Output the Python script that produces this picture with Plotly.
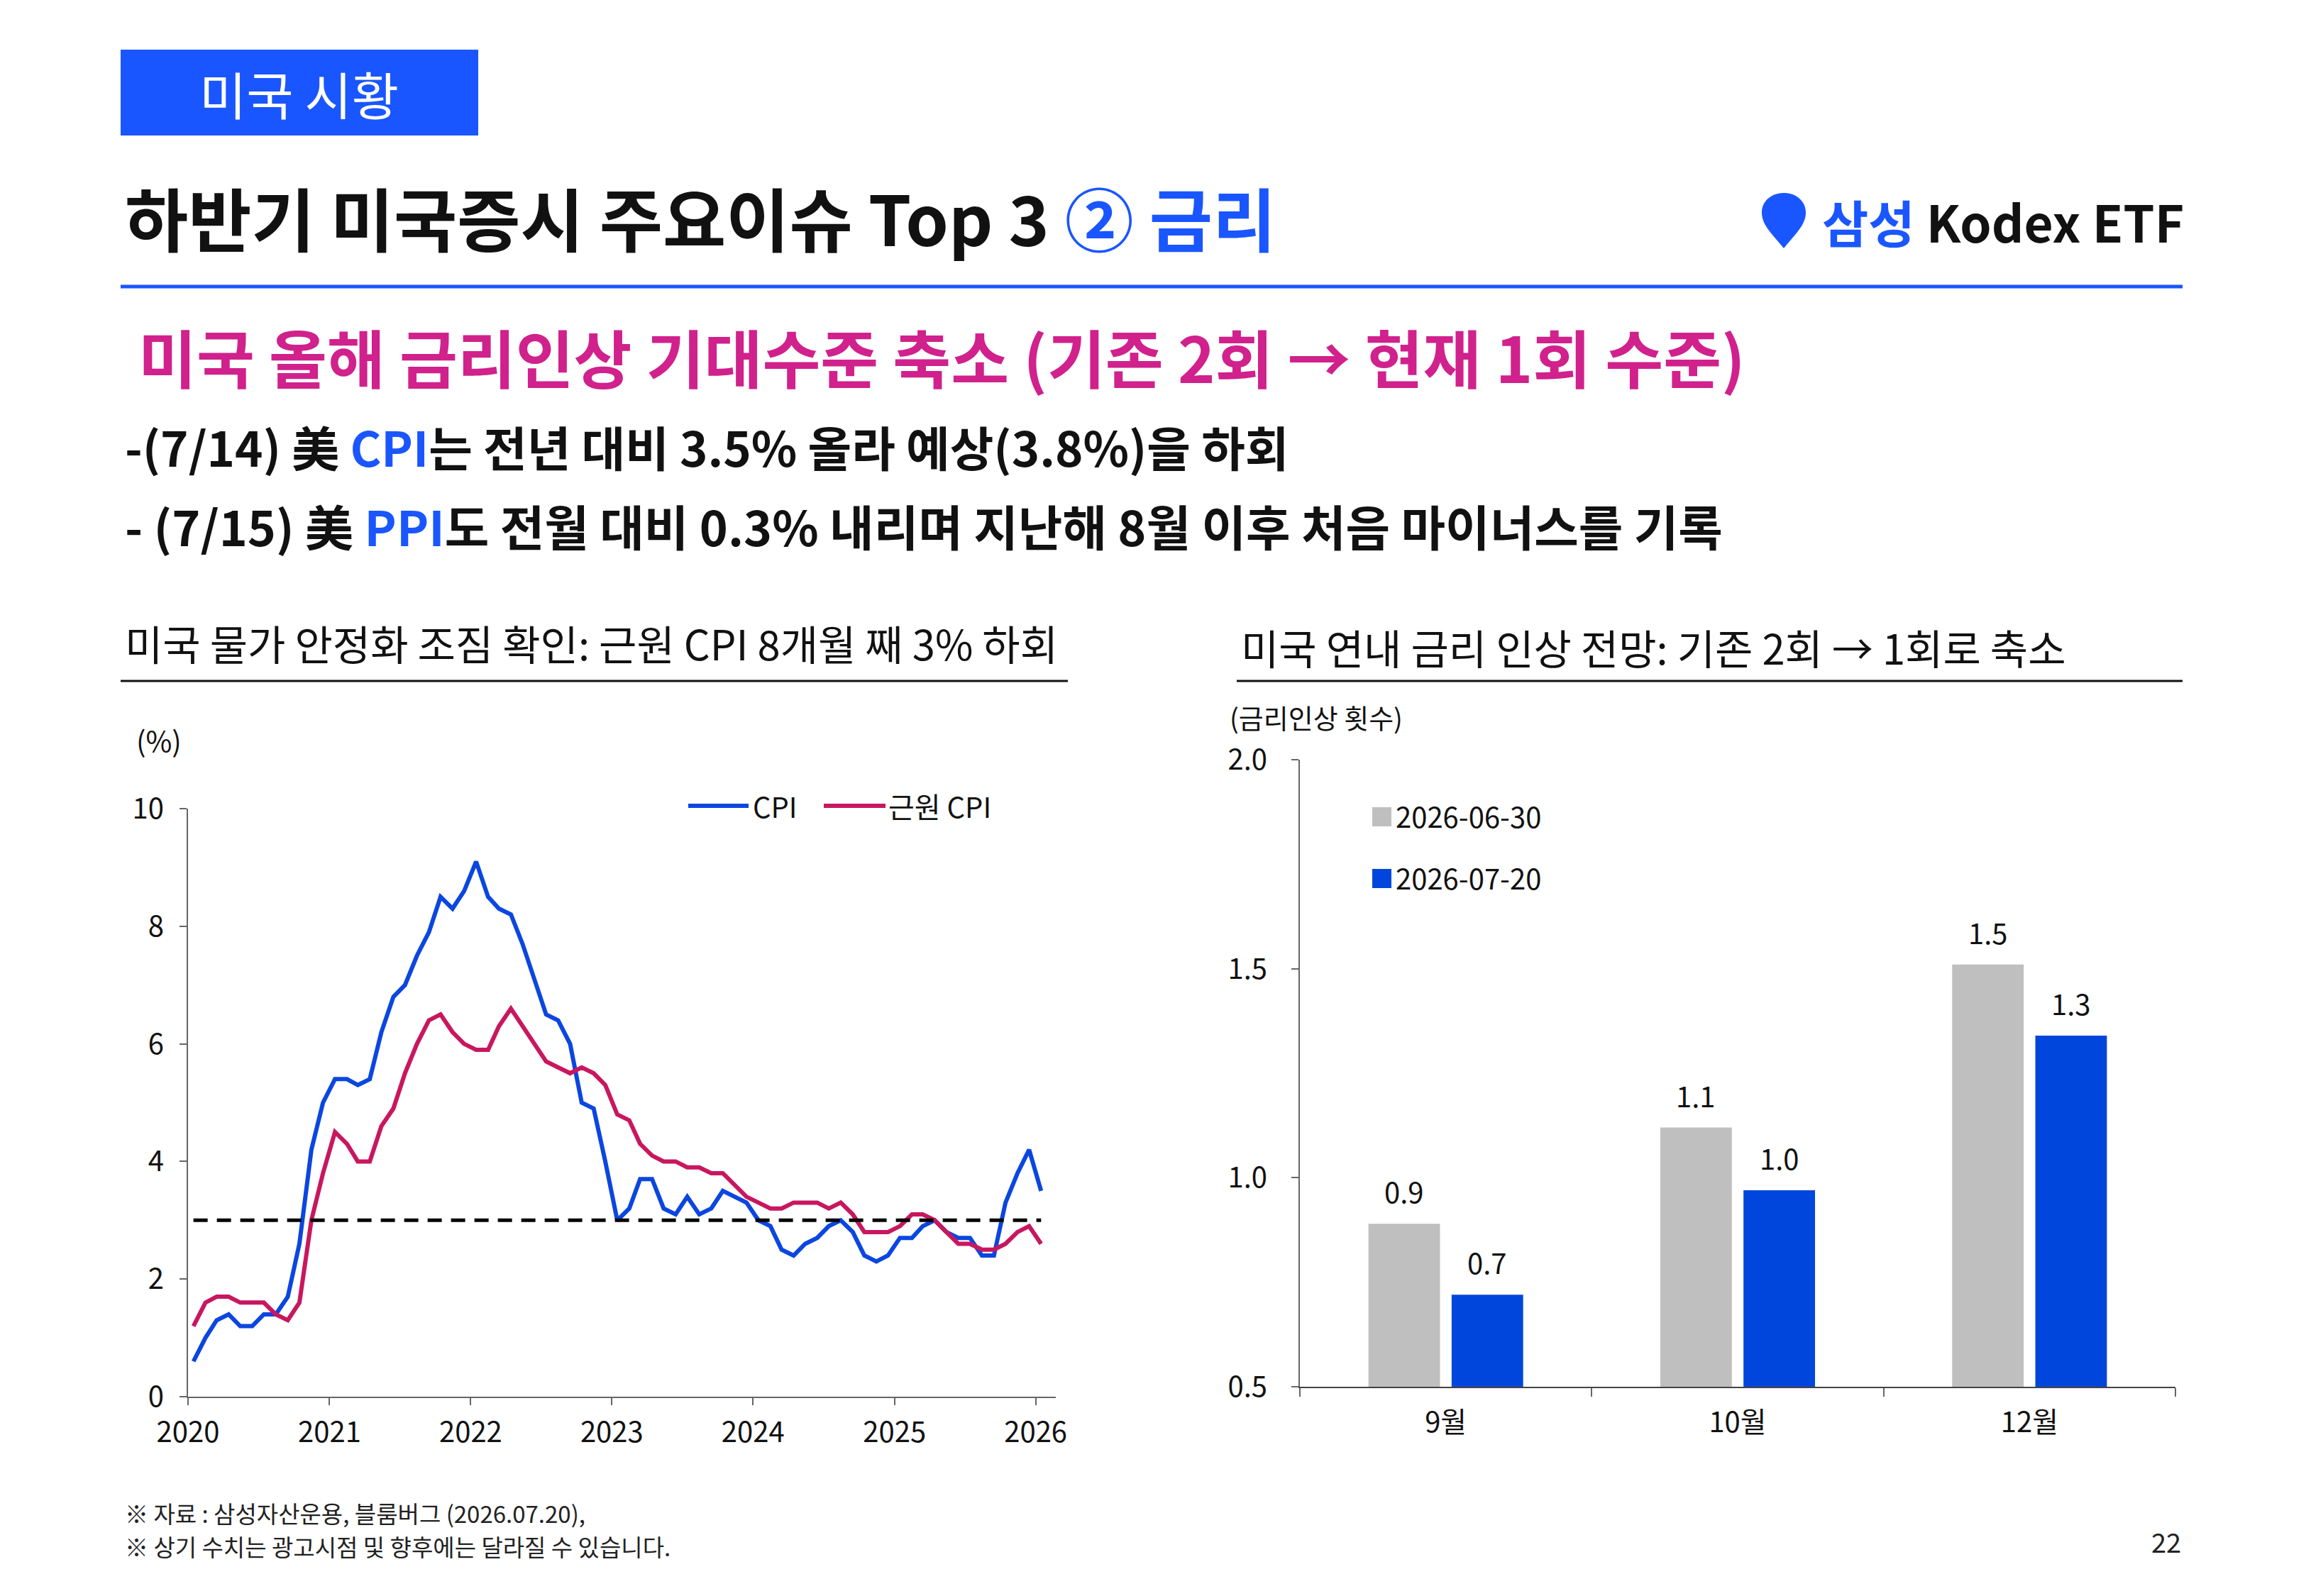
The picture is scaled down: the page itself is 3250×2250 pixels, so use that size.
import plotly.graph_objects as go
import pandas as pd

W, H = 3250, 2250
FONT = "Noto Sans CJK KR"


def px(x):
    return x / W


def py(y):
    return 1 - y / H


# ---------------- data ----------------
months = pd.date_range("2020-01-01", periods=73, freq="MS") + pd.Timedelta(days=14)

cpi = [0.6, 1.0, 1.3, 1.4, 1.2, 1.2, 1.4, 1.4, 1.7, 2.6, 4.2, 5.0,
       5.4, 5.4, 5.3, 5.4, 6.2, 6.8, 7.0, 7.5, 7.9, 8.5, 8.3, 8.6,
       9.1, 8.5, 8.3, 8.2, 7.7, 7.1, 6.5, 6.4, 6.0, 5.0, 4.9, 4.0,
       3.0, 3.2, 3.7, 3.7, 3.2, 3.1, 3.4, 3.1, 3.2, 3.5, 3.4, 3.3,
       3.0, 2.9, 2.5, 2.4, 2.6, 2.7, 2.9, 3.0, 2.8, 2.4, 2.3, 2.4,
       2.7, 2.7, 2.9, 3.0, 2.8, 2.7, 2.7, 2.4, 2.4, 3.3, 3.8, 4.2, 3.5]

core_cpi = [1.2, 1.6, 1.7, 1.7, 1.6, 1.6, 1.6, 1.4, 1.3, 1.6, 3.0, 3.8,
            4.5, 4.3, 4.0, 4.0, 4.6, 4.9, 5.5, 6.0, 6.4, 6.5, 6.2, 6.0,
            5.9, 5.9, 6.3, 6.6, 6.3, 6.0, 5.7, 5.6, 5.5, 5.6, 5.5, 5.3,
            4.8, 4.7, 4.3, 4.1, 4.0, 4.0, 3.9, 3.9, 3.8, 3.8, 3.6, 3.4,
            3.3, 3.2, 3.2, 3.3, 3.3, 3.3, 3.2, 3.3, 3.1, 2.8, 2.8, 2.8,
            2.9, 3.1, 3.1, 3.0, 2.8, 2.6, 2.6, 2.5, 2.5, 2.6, 2.8, 2.9, 2.6]

line_names = ["CPI", "근원 CPI"]
THRESHOLD = 3.0

bar_categories = ["9월", "10월", "12월"]
series_0630 = [0.89, 1.12, 1.51]
series_0720 = [0.72, 0.97, 1.34]
bar_names = ["2026-06-30", "2026-07-20"]

# ---------------- styles ----------------
BLUE_BRAND = "#1A56FF"
MAGENTA = "#D0218C"
CPI_COLOR = "#0B46E0"
CORE_COLOR = "#C8175F"
GRAY_BAR = "#BFBFBF"
BLUE_BAR = "#0046DC"
AXIS_COLOR = "#666666"
TEXT = "#111111"

BARGAP = 0.43
BARGROUPGAP = 0.14
X2_DOMAIN = [px(1832), px(3066)]

fig = go.Figure()

fig.add_trace(go.Scatter(x=months, y=cpi, name=line_names[0], mode="lines",
                         line=dict(color=CPI_COLOR, width=6), xaxis="x", yaxis="y",
                         showlegend=False))
fig.add_trace(go.Scatter(x=months, y=core_cpi, name=line_names[1], mode="lines",
                         line=dict(color=CORE_COLOR, width=6), xaxis="x", yaxis="y",
                         showlegend=False))

fig.add_trace(go.Bar(x=bar_categories, y=series_0630, name=bar_names[0],
                     marker=dict(color=GRAY_BAR, line=dict(width=0)),
                     xaxis="x2", yaxis="y2", showlegend=False))
fig.add_trace(go.Bar(x=bar_categories, y=series_0720, name=bar_names[1],
                     marker=dict(color=BLUE_BAR, line=dict(width=0)),
                     xaxis="x2", yaxis="y2", showlegend=False))

tickfont = dict(family=FONT, size=40, color=TEXT)

fig.update_layout(
    template="none",
    width=W, height=H, autosize=False,
    margin=dict(l=0, r=0, t=0, b=0, pad=0, autoexpand=False),
    paper_bgcolor="white", plot_bgcolor="white",
    font=dict(family=FONT, color=TEXT),
    barmode="group", bargap=BARGAP, bargroupgap=BARGROUPGAP,
    showlegend=False,
    xaxis=dict(domain=[px(265), px(1488)], anchor="y", type="date",
               range=["2020-01-01", "2026-02-22"],
               tick0="2020-01-01", dtick="M12", tickformat="%Y",
               ticks="outside", ticklen=10, tickwidth=2, tickcolor=AXIS_COLOR,
               showline=True, linecolor=AXIS_COLOR, linewidth=2,
               showgrid=False, zeroline=False, tickfont=tickfont,
               ticklabelstandoff=4, automargin=False),
    yaxis=dict(domain=[1 - 1969 / H, 1 - 1140 / H], anchor="x",
               range=[0, 10], dtick=2,
               ticks="outside", ticklen=10, tickwidth=2, tickcolor=AXIS_COLOR,
               showline=True, linecolor=AXIS_COLOR, linewidth=2,
               showgrid=False, zeroline=False, tickfont=tickfont,
               ticklabelstandoff=14, automargin=False),
    xaxis2=dict(domain=X2_DOMAIN, anchor="y2", type="category",
                tickson="boundaries", ticks="outside", ticklen=12, tickwidth=2,
                tickcolor=AXIS_COLOR,
                showline=True, linecolor="#444444", linewidth=2,
                showgrid=False, zeroline=False, tickfont=tickfont,
                ticklabelstandoff=14, automargin=False),
    yaxis2=dict(domain=[1 - 1955 / H, 1 - 1071 / H], anchor="x2",
                range=[0.5, 2.0], dtick=0.5, tickformat=".1f",
                ticks="outside", ticklen=10, tickwidth=2, tickcolor=AXIS_COLOR,
                showline=True, linecolor=AXIS_COLOR, linewidth=2,
                showgrid=False, zeroline=False, tickfont=tickfont,
                ticklabelstandoff=26, automargin=False),
)

shapes = []
# header box
shapes.append(dict(type="rect", xref="paper", yref="paper",
                   x0=px(170), x1=px(674), y0=py(191), y1=py(70),
                   fillcolor=BLUE_BRAND, line=dict(width=0)))
# title underline
shapes.append(dict(type="line", xref="paper", yref="paper",
                   x0=px(170), x1=px(3076), y0=py(404), y1=py(404),
                   line=dict(color=BLUE_BRAND, width=5)))
# chart subtitle underlines
shapes.append(dict(type="line", xref="paper", yref="paper",
                   x0=px(170), x1=px(1505), y0=py(960), y1=py(960),
                   line=dict(color="#111111", width=3)))
shapes.append(dict(type="line", xref="paper", yref="paper",
                   x0=px(1743), x1=px(3076), y0=py(960), y1=py(960),
                   line=dict(color="#111111", width=3)))


def P(x, y):
    return f"{px(x):.5f},{py(y):.5f}"


# logo drop
drop = (f"M{P(2514, 350)} C{P(2500, 332)} {P(2483, 318)} {P(2483, 300)} "
        f"C{P(2483, 283)} {P(2497, 272)} {P(2514, 272)} "
        f"C{P(2531, 272)} {P(2545, 283)} {P(2545, 300)} "
        f"C{P(2545, 318)} {P(2528, 332)} {P(2514, 350)} Z")
shapes.append(dict(type="path", xref="paper", yref="paper", path=drop,
                   fillcolor=BLUE_BRAND, line=dict(width=0)))
# threshold dashed line
shapes.append(dict(type="line", xref="x", yref="y",
                   x0=months[0], x1=months[-1], y0=THRESHOLD, y1=THRESHOLD,
                   line=dict(color="#000000", width=5, dash="20px,13px")))
# left legend samples
shapes.append(dict(type="line", xref="paper", yref="paper",
                   x0=px(970), x1=px(1055), y0=py(1136), y1=py(1136),
                   line=dict(color=CPI_COLOR, width=6)))
shapes.append(dict(type="line", xref="paper", yref="paper",
                   x0=px(1161), x1=px(1248), y0=py(1136), y1=py(1136),
                   line=dict(color=CORE_COLOR, width=6)))
# right legend samples
shapes.append(dict(type="rect", xref="paper", yref="paper",
                   x0=px(1934), x1=px(1961), y0=py(1165), y1=py(1138),
                   fillcolor=GRAY_BAR, line=dict(width=0)))
shapes.append(dict(type="rect", xref="paper", yref="paper",
                   x0=px(1934), x1=px(1961), y0=py(1252), y1=py(1225),
                   fillcolor=BLUE_BAR, line=dict(width=0)))

ann = []


def text(x, y, s, size, color=TEXT, xa="left", ya="middle"):
    ann.append(dict(x=px(x), y=py(y), xref="paper", yref="paper", text=s,
                    showarrow=False, xanchor=xa, yanchor=ya,
                    font=dict(family=FONT, size=size, color=color)))


text(422, 131, "미국 시황", 72, "white", xa="center")
text(174, 305, f"<b>하반기 미국증시 주요이슈 Top 3 <span style='color:{BLUE_BRAND}'>② 금리</span></b>", 97)
text(2566, 311, f"<b><span style='color:{BLUE_BRAND}'>삼성</span> Kodex ETF</b>", 71)
text(193, 501, "<b>미국 올해 금리인상 기대수준 축소 (기존 2회 → 현재 1회 수준)</b>", 89, MAGENTA)
text(174, 628, f"<b>-(7/14) 美 <span style='color:{BLUE_BRAND}'>CPI</span>는 전년 대비 3.5% 올라 예상(3.8%)을 하회</b>", 67)
text(174, 740, f"<b>- (7/15) 美 <span style='color:{BLUE_BRAND}'>PPI</span>도 전월 대비 0.3% 내리며 지난해 8월 이후 처음 마이너스를 기록</b>", 68)
text(174, 906, "미국 물가 안정화 조짐 확인: 근원 CPI 8개월 째 3% 하회", 58)
text(1747, 912, "미국 연내 금리 인상 전망: 기존 2회 → 1회로 축소", 58)
text(224, 1043, "(%)", 40, xa="center")
text(1731, 1010, "(금리인상 횟수)", 38)
text(1059, 1136, line_names[0], 40)
text(1250, 1136, line_names[1], 40)
text(1965, 1150, bar_names[0], 40)
text(1965, 1237, bar_names[1], 40)
text(174, 2133, "※ 자료 : 삼성자산운용, 블룸버그 (2026.07.20),", 33, "#222222")
text(174, 2180, "※ 상기 수치는 광고시점 및 향후에는 달라질 수 있습니다.", 33, "#222222")
text(3053, 2172, "22", 38, "#222222", xa="center")

# bar value labels, placed from the data through the bar axes
plot_w = (X2_DOMAIN[1] - X2_DOMAIN[0]) * W
cat_w = plot_w / len(bar_categories)
slot = cat_w * (1 - BARGAP) / 2
for sign, vals in ((-1, series_0630), (1, series_0720)):
    for cat, v in zip(bar_categories, vals):
        ann.append(dict(x=cat, y=v, xref="x2", yref="y2", text=f"{v:.1f}",
                        showarrow=False, xanchor="center", yanchor="middle",
                        xshift=sign * slot / 2, yshift=46,
                        font=dict(family=FONT, size=40, color=TEXT)))

fig.update_layout(shapes=shapes, annotations=ann)
fig.write_html("out.html")
